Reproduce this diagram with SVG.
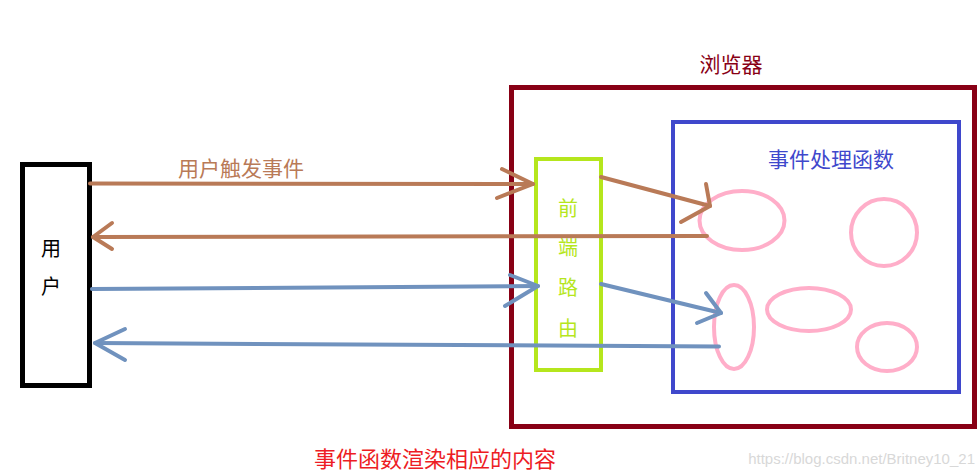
<svg xmlns="http://www.w3.org/2000/svg" width="977" height="475" viewBox="0 0 977 475">
<style>
text{font-family:"Noto Sans CJK SC","Microsoft YaHei",sans-serif;}
.box{fill:none;}
.brown{fill:none;stroke:#b97a57;stroke-width:4;stroke-linecap:round;stroke-linejoin:round;}
.blue{fill:none;stroke:#7092be;stroke-width:4;stroke-linecap:round;stroke-linejoin:round;}
.pink{fill:none;stroke:#ffaec9;stroke-width:4;}
</style>
<rect width="977" height="475" fill="#ffffff"/>
<g id="user">
<rect class="box" x="22.5" y="164.5" width="67" height="221" stroke="#000000" stroke-width="5"/>
<text x="51" y="256" font-size="20" text-anchor="middle" fill="#000000">用</text>
<text x="51" y="294" font-size="20" text-anchor="middle" fill="#000000">户</text>
</g>
<g id="browser">
<rect class="box" x="511.5" y="87.5" width="463" height="339" stroke="#880015" stroke-width="5"/>
<text x="731" y="72" font-size="21" text-anchor="middle" fill="#880015">浏览器</text>
</g>
<g id="router">
<rect class="box" x="536" y="159" width="65" height="211" stroke="#b5e61d" stroke-width="4"/>
<text x="568" y="216" font-size="20" text-anchor="middle" fill="#b5e61d">前</text>
<text x="568" y="255" font-size="20" text-anchor="middle" fill="#b5e61d">端</text>
<text x="568" y="295" font-size="20" text-anchor="middle" fill="#b5e61d">路</text>
<text x="568" y="336" font-size="20" text-anchor="middle" fill="#b5e61d">由</text>
</g>
<g id="handlers">
<rect class="box" x="673" y="122" width="286" height="270" stroke="#3f48cc" stroke-width="4"/>
<text x="831" y="167" font-size="21" text-anchor="middle" fill="#3f48cc">事件处理函数</text>
</g>
<g id="fn1"><ellipse class="pink" cx="742" cy="220.5" rx="42.5" ry="29.5"/></g>
<g id="fn2"><ellipse class="pink" cx="884" cy="232.5" rx="33" ry="33.5"/></g>
<g id="fn3"><ellipse class="pink" cx="734" cy="327" rx="20" ry="42"/></g>
<g id="fn4"><ellipse class="pink" cx="809" cy="309.5" rx="42" ry="21.5"/></g>
<g id="fn5"><ellipse class="pink" cx="887" cy="347" rx="30" ry="24"/></g>
<g id="connectors">
<path class="brown" d="M90 183.5 L533 184"/>
<path class="brown" d="M502 169 L533 184 L497 198"/>
<path class="brown" d="M707 236 L93 237"/>
<path class="brown" d="M112 223 L93 237 L112 249"/>
<path class="brown" d="M601 177 L710 206"/>
<path class="brown" d="M706 184 L710 206 L681 222"/>
<path class="blue" d="M92 289 L538 286"/>
<path class="blue" d="M510 275 L538 286 L505 306"/>
<path class="blue" d="M601 284 L721 313"/>
<path class="blue" d="M706 293 L721 313 L697 323"/>
<path class="blue" d="M719 346.5 L95 343"/>
<path class="blue" d="M125 329 L95 343 L125 360"/>
</g>
<g id="labels">
<text x="241" y="176" font-size="21" text-anchor="middle" fill="#b97a57">用户触发事件</text>
<text x="435" y="467" font-size="22" text-anchor="middle" fill="#ed1c24">事件函数渲染相应的内容</text>
<text x="975" y="464" font-size="15" text-anchor="end" fill="#d8d8d8" font-family="Liberation Sans, Arial, sans-serif" style="font-family:'Liberation Sans',Arial,sans-serif">https://blog.csdn.net/Britney10_21</text>
</g>
</svg>
